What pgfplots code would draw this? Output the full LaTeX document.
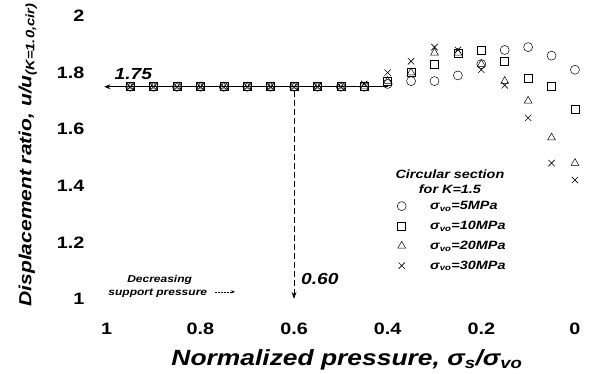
\documentclass[border=0pt]{standalone}
\usepackage{pgfplots}
\pgfplotsset{compat=1.18}
\usetikzlibrary{arrows.meta}
\usepackage{fontspec}
\setmainfont{Liberation Sans}[FakeStretch=1.2]
\begin{document}
\begin{tikzpicture}
\begin{axis}[
  scale only axis, width=501pt, height=297pt,
  x dir=reverse,
  xmin=-0.03, xmax=1.04, ymin=0.98, ymax=2.03,
  axis line style={draw=none},
  major tick length=0pt,
  xtick={0,0.2,0.4,0.6,0.8,1}, ytick={1,1.2,1.4,1.6,1.8,2},
  /pgf/number format/assume math mode=true,
  tick label style={font=\fontsize{16.5}{16.5}\selectfont\bfseries},
  xticklabel shift=15pt, yticklabel shift=0pt,
  xlabel={\bfseries\itshape Normalized pressure, σ\textsubscript{s}/σ\textsubscript{vo}},
  xlabel style={font=\fontsize{22}{22}\selectfont, at={(axis description cs:0.517,-0.206)}, anchor=base},
  ylabel={\bfseries\itshape Displacement ratio, u/u\textsubscript{(K=1.0,cir)}},
  ylabel style={font=\fontsize{17.5}{17.5}\selectfont, at={(axis description cs:-0.12,0.504)}, anchor=center},
  legend style={draw=none, fill=none, inner sep=0pt, at={(axis cs:0.38,1.353)}, anchor=north west,
    font=\fontsize{12}{14}\selectfont\bfseries\itshape, row sep=6pt,
    /tikz/every odd column/.append style={column sep=22pt}},
  legend cell align=left,
]
\addplot[only marks, mark=o, mark size=4.5pt, black, line width=0.5pt] coordinates {
(0.95,1.75)(0.90,1.75)(0.85,1.75)(0.80,1.75)(0.75,1.75)(0.70,1.75)(0.65,1.75)(0.60,1.75)(0.55,1.75)(0.50,1.75)(0.45,1.75)
(0.40,1.76)(0.35,1.77)(0.30,1.77)(0.25,1.79)(0.20,1.83)(0.15,1.88)(0.10,1.89)(0.05,1.86)(0.00,1.81)};
\addlegendentry{σ\textsubscript{vo}=5MPa}
\addplot[only marks, mark=square, mark size=4pt, black, line width=0.5pt] coordinates {
(0.95,1.75)(0.90,1.75)(0.85,1.75)(0.80,1.75)(0.75,1.75)(0.70,1.75)(0.65,1.75)(0.60,1.75)(0.55,1.75)(0.50,1.75)(0.45,1.75)
(0.40,1.77)(0.35,1.80)(0.30,1.83)(0.25,1.87)(0.20,1.88)(0.15,1.84)(0.10,1.78)(0.05,1.75)(0.00,1.67)};
\addlegendentry{σ\textsubscript{vo}=10MPa}
\addplot[only marks, mark=triangle, mark size=4.5pt, black, line width=0.5pt] coordinates {
(0.95,1.75)(0.90,1.75)(0.85,1.75)(0.80,1.75)(0.75,1.75)(0.70,1.75)(0.65,1.75)(0.60,1.75)(0.55,1.75)(0.50,1.75)(0.45,1.75)
(0.40,1.77)(0.35,1.80)(0.30,1.87)(0.25,1.87)(0.20,1.83)(0.15,1.77)(0.10,1.70)(0.05,1.57)(0.00,1.48)};
\addlegendentry{σ\textsubscript{vo}=20MPa}
\addplot[only marks, mark=x, mark size=4.5pt, black, line width=0.6pt] coordinates {
(0.95,1.75)(0.90,1.75)(0.85,1.75)(0.80,1.75)(0.75,1.75)(0.70,1.75)(0.65,1.75)(0.60,1.75)(0.55,1.75)(0.50,1.75)(0.45,1.76)
(0.40,1.80)(0.35,1.84)(0.30,1.89)(0.25,1.88)(0.20,1.81)(0.15,1.755)(0.10,1.64)(0.05,1.48)(0.00,1.42)};
\addlegendentry{σ\textsubscript{vo}=30MPa}
\addplot[forget plot, black, line width=0.7pt, -{Stealth[length=6pt,width=5pt]}] coordinates {(0.40,1.75) (1.005,1.75)};
\addplot[forget plot, black, line width=1pt, dash pattern=on 6pt off 3pt, -{Stealth[length=7pt,width=5pt]}] coordinates {(0.60,1.735) (0.60,1.0)};
\addplot[forget plot, black, line width=0.5pt, densely dotted, -{Stealth[length=4pt,width=3pt]}] coordinates {(0.769,1.025) (0.726,1.025)};
\node[font=\fontsize{16}{16}\selectfont\bfseries\itshape] at (axis cs:0.943,1.795) {1.75};
\node[font=\fontsize{16}{16}\selectfont\bfseries\itshape] at (axis cs:0.545,1.071) {0.60};
\node[font=\fontsize{10}{11}\selectfont\bfseries\itshape] at (axis cs:0.887,1.067) {Decreasing};
\node[font=\fontsize{10}{11}\selectfont\bfseries\itshape] at (axis cs:0.891,1.021) {support pressure};
\node[font=\fontsize{12}{13}\selectfont\bfseries\itshape] at (axis cs:0.267,1.442) {Circular section};
\node[font=\fontsize{12}{13}\selectfont\bfseries\itshape] at (axis cs:0.267,1.389) {for K=1.5};
\end{axis}
\path ([xshift=-88pt,yshift=-64pt]current axis.south west) ([xshift=2pt,yshift=5.5pt]current axis.north east);
\end{tikzpicture}
\end{document}
